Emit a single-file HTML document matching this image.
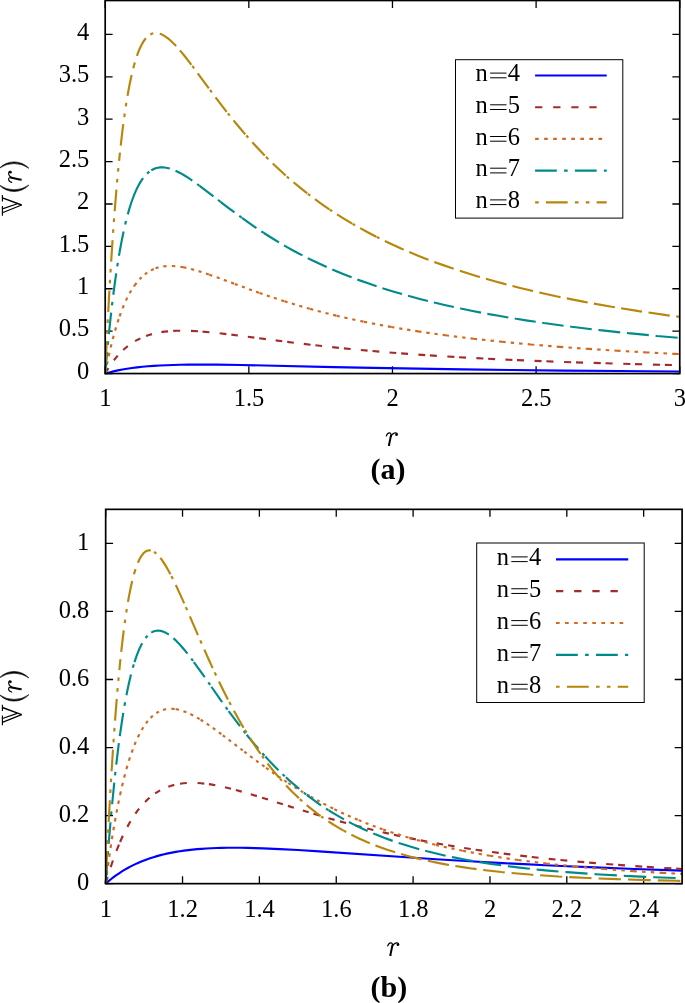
<!DOCTYPE html>
<html><head><meta charset="utf-8"><style>
html,body{margin:0;padding:0;background:#fff}
svg{display:block;font-family:"Liberation Serif",serif;will-change:transform}
</style></head><body>
<svg width="685" height="1003" viewBox="0 0 685 1003">
<rect width="685" height="1003" fill="#fff"/>
<path d="M105.2 373.55v-7.4M105.2 0.5v7.4M248.84 373.55v-7.4M248.84 0.5v7.4M392.47 373.55v-7.4M392.47 0.5v7.4M536.11 373.55v-7.4M536.11 0.5v7.4M679.75 373.55v-7.4M679.75 0.5v7.4M105.2 373.55h7.4M679.75 373.55h-7.4M105.2 331.16h7.4M679.75 331.16h-7.4M105.2 288.77h7.4M679.75 288.77h-7.4M105.2 246.37h7.4M679.75 246.37h-7.4M105.2 203.98h7.4M679.75 203.98h-7.4M105.2 161.59h7.4M679.75 161.59h-7.4M105.2 119.2h7.4M679.75 119.2h-7.4M105.2 76.81h7.4M679.75 76.81h-7.4M105.2 34.41h7.4M679.75 34.41h-7.4" stroke="#000" stroke-width="1.3" fill="none"/>
<path d="M105.67 883.65v-7.4M105.67 509.35v7.4M182.53 883.65v-7.4M182.53 509.35v7.4M259.38 883.65v-7.4M259.38 509.35v7.4M336.24 883.65v-7.4M336.24 509.35v7.4M413.1 883.65v-7.4M413.1 509.35v7.4M489.96 883.65v-7.4M489.96 509.35v7.4M566.81 883.65v-7.4M566.81 509.35v7.4M643.67 883.65v-7.4M643.67 509.35v7.4M105.67 883.65h7.4M682.1 883.65h-7.4M105.67 815.6h7.4M682.1 815.6h-7.4M105.67 747.54h7.4M682.1 747.54h-7.4M105.67 679.49h7.4M682.1 679.49h-7.4M105.67 611.43h7.4M682.1 611.43h-7.4M105.67 543.38h7.4M682.1 543.38h-7.4" stroke="#000" stroke-width="1.3" fill="none"/>
<g fill="none" stroke-width="2.15">
<path d="M105.2 373.55L109.26 372.42L113.46 371.37L117.84 370.41L122.37 369.53L127.07 368.74L131.99 368.02L137.09 367.37L142.44 366.8L148.01 366.3L153.82 365.87L159.93 365.51L166.39 365.21L173.18 364.97L180.4 364.79L188.08 364.68L196.27 364.62L205.93 364.62L216.53 364.69L241.45 365.04L264.76 365.5L333.56 367.06L373.24 367.88L417.56 368.69L462.99 369.4L511.4 370.02L563.11 370.57L618.95 371.04L679.75 371.46" stroke="#0000ff"/>
<path d="M105.2 373.55L106.82 370.77L108.44 368.12M113.91 360.26L115.83 357.84L117.76 355.58M123.26 349.93L125.49 347.95L127.8 346.06M135.08 341.13L137.7 339.68L140.36 338.36M146.1 335.98L148.98 335.01L151.92 334.14M161.42 332.13L164.63 331.68L168.03 331.31M173.18 330.93L176.63 330.78L180.25 330.71M190.94 330.9L198.01 331.28M202.56 331.62L209.46 332.22M219.67 333.29L226.38 334.07M231.36 334.67L237.88 335.49M247.81 336.78L254.33 337.64M259.15 338.27L265.85 339.15M275.68 340.43L282.3 341.28M287.2 341.9L293.85 342.73M303.79 343.93L310.58 344.72M315.39 345.28L322.12 346.03M332.2 347.12L338.91 347.82M343.9 348.33L350.71 349M360.84 349.96L367.62 350.58M372.49 351.01L379.27 351.6M389.52 352.45L396.26 352.98M401.15 353.36L408.02 353.88M418.39 354.62L425.24 355.09M429.91 355.4L436.83 355.85M447.33 356.51L454.34 356.93M459.07 357.2L465.98 357.59M476.41 358.16L483.39 358.52M488.09 358.76L495.07 359.1M505.44 359.59L512.38 359.9M516.96 360.1L523.98 360.4M534.54 360.84L541.57 361.12M546.34 361.3L553.43 361.57M564.11 361.95L571.18 362.2M576.04 362.36L583.05 362.59M593.68 362.93L600.77 363.15M605.48 363.29L612.58 363.49M623.29 363.79L630.37 363.98M635.08 364.11L642.21 364.29M652.95 364.56L660.11 364.73M664.85 364.84L671.93 365" stroke="#a52a2a"/>
<path d="M105.2 373.55L105.86 370.07M106.89 364.87L107.61 361.4M108.71 356.2L109.47 352.78M110.67 347.59L111.5 344.16M112.77 339.1L113.66 335.73M115.08 330.63L116.04 327.34M117.57 322.39L118.64 319.13M119.56 316.42L120.73 313.17M122.55 308.42L123.84 305.27M125.89 300.65L127.34 297.64M129.64 293.28L131.24 290.5M133.81 286.5L134.68 285.26M134.68 285.26L136.54 282.78M139.57 279.23L141.6 277.17M144.89 274.3L147.24 272.58M150.94 270.36L152.32 269.68L153.74 269.04M155.51 268.35L157.02 267.84L158.56 267.39M163.25 266.43L164.85 266.23L166.55 266.08M171.86 265.99L175.36 266.2M180.3 266.79L183.27 267.3M183.27 267.3L186.35 267.92M191.07 269.04L194.13 269.85M198.6 271.15L201.46 272.04M205.96 273.5L208.94 274.51M209.34 274.65L212.28 275.67M216.69 277.25L219.64 278.32M223.89 279.87L226.77 280.94M231.1 282.55L233.99 283.62M234.77 283.91L237.69 284.99M241.95 286.57L244.79 287.61M249.11 289.19L251.98 290.23M256.05 291.68L259.01 292.73M259.55 292.92L262.5 293.95M266.83 295.45L269.79 296.45M273.93 297.84L276.77 298.78M281.21 300.22L284.16 301.16M284.51 301.27L287.53 302.22M291.88 303.56L294.87 304.46M299.3 305.78L302.28 306.65M306.81 307.94L309.79 308.77M310.18 308.88L313.2 309.71M317.77 310.94L320.88 311.76M325.52 312.96L328.59 313.74M333.18 314.87L336.26 315.62M336.65 315.71L339.74 316.44M344.36 317.52L347.56 318.24M352.26 319.29L355.4 319.97M360.28 321.01L363.47 321.67M363.87 321.75L367.03 322.4M371.97 323.38L375.11 323.99M379.87 324.9L383.05 325.49M387.78 326.35L391.04 326.93M391.24 326.97L394.38 327.52M399.25 328.35L402.35 328.87M407.12 329.65L410.37 330.17M415.23 330.93L418.1 331.37M418.1 331.37L421.4 331.87M426.3 332.6L429.63 333.08M434.48 333.77L437.73 334.22M442.64 334.88L445.61 335.28M445.61 335.28L448.94 335.71M453.9 336.35L457.27 336.77M462.27 337.39L465.51 337.78M470.51 338.37L473.73 338.74M473.73 338.74L477.09 339.12M482.01 339.67L485.44 340.04M490.56 340.59L493.92 340.94M498.98 341.46L502.13 341.77M502.13 341.77L505.61 342.12M510.72 342.61L514.07 342.93M519.1 343.4L522.57 343.72M527.72 344.18L530.9 344.46M530.9 344.46L534.32 344.75M539.47 345.19L542.98 345.48M548.16 345.9L551.59 346.18M556.72 346.58L559.84 346.82M559.84 346.82L563.3 347.09M568.47 347.47L571.91 347.72M577.08 348.09L580.5 348.34M585.7 348.7L588.71 348.9M588.71 348.9L592.07 349.13M597.14 349.46L600.64 349.69M605.81 350.02L609.26 350.24M614.4 350.55L617.12 350.72M617.12 350.72L620.52 350.92M625.78 351.23L629.28 351.43M634.52 351.73L637.94 351.92M643.1 352.2L645.96 352.36M645.96 352.36L649.53 352.55M654.78 352.82L658.26 353M663.43 353.27L667 353.45M672.2 353.7L675.12 353.84M675.12 353.84L678.65 354.01" stroke="#d2691e"/>
<path d="M105.2 373.55L107.11 352.03M107.79 344.87L108.14 341.23M108.85 334.08L109.98 323.28L111.15 312.6M111.98 305.49L112.41 301.9M113.29 294.74L114.72 283.88L116.19 273.44M117.25 266.37L117.81 262.84M118.96 255.8L119.56 252.31M119.56 252.31L121.58 241.38L123.62 231.42M125.17 224.58L126.01 221.09M127.77 214.33L129.26 209.11L130.77 204.27L132.31 199.74L133.93 195.44M133.93 195.44L135.01 192.8L136.08 190.34L137.2 187.98L138.35 185.72L139.5 183.63L140.68 181.64L141.87 179.82L143.08 178.12M147.04 173.61L148.22 172.55L149.38 171.62M151.31 170.3L152.32 169.72L153.36 169.2L154.4 168.75L155.48 168.36L156.55 168.03L157.67 167.77L158.78 167.57L159.93 167.43L161.11 167.36L162.3 167.35L164.71 167.51L167.22 167.93L169.81 168.58M175.51 170.71L177.1 171.44M177.1 171.44L180.51 173.19L184.13 175.27L188.01 177.7L192.26 180.55M197.13 184.01L199.51 185.75M199.65 185.85L205.54 190.28L213.47 196.37M218.03 199.9L220.4 201.73M220.48 201.79L227.98 207.54L234.5 212.44M239.28 215.97L241.65 217.69M242.02 217.97L249.31 223.16L256.41 228.04M261.29 231.29L263.78 232.93M263.86 232.97L271.4 237.77L278.95 242.37M284.03 245.35L286.58 246.81M286.59 246.82L294.45 251.19L302.44 255.42M307.8 258.14L310.44 259.45M310.47 259.46L318.52 263.32L326.69 267.06M332.27 269.5L334.71 270.54M334.71 270.54L343.08 274L351.6 277.35M357.34 279.51L359.71 280.38M359.71 280.38L368.07 283.36L376.6 286.25M382.47 288.16L384.23 288.72M384.23 288.72L393.03 291.44L402.02 294.08M408.06 295.78L410.02 296.32M410.02 296.32L418.82 298.68L427.85 300.99M433.86 302.46L435.3 302.81M435.3 302.81L444.49 304.96L453.82 307.05M460.22 308.42L462.02 308.8M462.02 308.8L471.39 310.72L480.99 312.59M487.33 313.78L488.99 314.09M488.99 314.09L498.54 315.8L508.32 317.48M514.77 318.55L516.28 318.8M516.28 318.8L525.9 320.32L535.72 321.81M542.26 322.77L543.82 322.99M543.82 322.99L563.55 325.7M570.11 326.55L571.55 326.74M571.55 326.74L591.74 329.2M598.42 329.97L600.03 330.16M600.03 330.16L620.18 332.35M626.92 333.05L628.29 333.19M628.29 333.19L648.78 335.19M655.6 335.82L657.09 335.96M657.09 335.96L677.67 337.77" stroke="#008b8b"/>
<path d="M105.2 373.55L105.36 369.92M105.7 362.73L106.73 341.07M107.09 333.81L107.27 330.23M107.64 323.03L107.83 319.36M108.21 312.14L109.41 290.53M109.83 283.33L110.04 279.69M110.48 272.46L110.69 268.88M111.14 261.67L112.57 240.07M113.07 232.86L113.32 229.26M113.85 222.04L114.11 218.45M114.66 211.26L116.42 189.68M117.05 182.5L117.37 178.87M118.04 171.72L118.38 168.14M119.08 160.98L119.56 156.27M119.56 156.27L119.94 152.71M120.72 145.54L121.97 134.68L123.28 124.19M124.24 117.07L124.75 113.49M125.8 106.4L126.35 102.88M127.51 95.84L128.51 90.24L129.55 84.77L130.59 79.69L131.62 75M133.29 68.16L133.93 65.74M133.93 65.74L134.86 62.43M136.96 55.82L137.99 52.97L139.06 50.24L140.14 47.77L141.26 45.46L142.4 43.33L143.55 41.44L144.74 39.73L145.9 38.27M150.32 34.49L150.34 34.47M150.34 34.47L151.81 33.77L153.28 33.3M159.87 33.7L161.4 34.29L163.05 35.09L164.74 36.08L166.5 37.27L168.3 38.64L170.16 40.22L172.1 42L174.1 43.97M174.15 44.03L176.12 46.1M179.91 50.35L182.48 53.42L185.21 56.79L188.19 60.59L191.45 64.85M192.29 65.95L194.11 68.39M197.75 73.28L208.84 88.32M209.99 89.87L211.85 92.37M215.56 97.34L221.3 104.89L226.67 111.81M227.87 113.34L229.75 115.7M233.56 120.43L239.44 127.55L245.26 134.38M246.3 135.57L248.26 137.8M252.28 142.3L258.51 149.04L264.76 155.55M265.94 156.74L268.37 159.18M272.79 163.53L279.19 169.59L285.69 175.49M286.77 176.45L289.04 178.44M293.53 182.29L300.34 187.92L307.26 193.39M307.96 193.93L310.23 195.66M314.95 199.19L322.07 204.31L329.31 209.28M329.68 209.53L332.16 211.18M337.1 214.39L344.59 219.07L352.21 223.62M352.6 223.85L355.04 225.26M360.2 228.18L368.11 232.48L376.23 236.7M376.62 236.9L379.42 238.3M384.88 240.98L392.89 244.76L401.04 248.45M401.04 248.45L403.71 249.62M409.34 252.03L417.45 255.39L425.68 258.64M425.68 258.64L428.52 259.74M434.26 261.9L442.48 264.88L450.85 267.8M450.85 267.8L453.69 268.76M459.83 270.8L468.34 273.52L477.06 276.2M477.06 276.2L479.97 277.06M485.96 278.82L494.63 281.27L503.46 283.66M503.46 283.66L506.43 284.45M512.48 286.02L521.16 288.19L530 290.33M530 290.33L533.08 291.05M539.32 292.49L548.28 294.49L557.33 296.43M557.33 296.43L560.51 297.1M566.78 298.38L575.57 300.13L584.51 301.85M584.51 301.85L587.68 302.45M593.87 303.59L611.66 306.71M611.66 306.71L614.84 307.25M621.1 308.28L638.77 311.08M638.77 311.08L642.03 311.58M648.54 312.55L666.46 315.12M666.46 315.12L669.72 315.56M676.19 316.44L679.71 316.91" stroke="#b8860b"/>
<path d="M105.67 883.65L108.26 881.41L110.89 879.27L113.6 877.18L116.33 875.19L119.11 873.28L121.96 871.44L124.84 869.68L127.79 867.99L130.78 866.39L133.84 864.85L136.94 863.4L140.11 862.01L143.36 860.7L146.67 859.45L150.02 858.28L153.48 857.17L156.98 856.13L160.58 855.15L164.25 854.24L168 853.4L171.86 852.61L175.78 851.89L179.82 851.23L183.96 850.63L188.21 850.09L192.57 849.61L197.04 849.18L201.65 848.81L206.37 848.5L211.27 848.24L216.32 848.04L221.5 847.9L227.7 847.79L234.15 847.76L240.89 847.8L247.91 847.91L255.3 848.09L263.05 848.35L280.01 849.08L297.92 850.05L319.18 851.37L399.27 856.8L436.13 859.2L469.74 861.24L502.89 863.09L524.08 864.19L545.48 865.24L567.17 866.23L589.22 867.19L634.61 868.96L682.1 870.58" stroke="#0000ff"/>
<path d="M105.67 883.65L107.62 876.94M110.7 867.06L112.91 860.5M116.44 850.87L118.98 844.56M120.08 841.96L122.84 835.81M127.34 826.86L128.91 824.03L130.49 821.31M135.39 813.72L137.23 811.17L139.15 808.69M145.08 801.96L147.28 799.81L149.55 797.77M155.14 793.47L157.62 791.85L160.17 790.37M168.29 786.69L171.24 785.7L174.3 784.86M180.03 783.71L183.35 783.28L186.79 782.99M197.54 782.99L200.86 783.22L204.3 783.56M208.89 784.16L212.06 784.66L215.31 785.23M225 787.27L231 788.73M235.84 790L241.78 791.63M250.76 794.26L256.86 796.1M262.07 797.72L268.04 799.58M276.95 802.4L282.84 804.27M287.94 805.87L293.85 807.73M302.83 810.52L308.67 812.31M313.45 813.75L319.49 815.55M328.48 818.17L334.58 819.9M339.93 821.4L346.09 823.08M355.42 825.55L361.47 827.1M367.21 828.54L373.36 830.05M382.67 832.25L388.89 833.67M393.9 834.79L399.95 836.1M409.52 838.1L415.84 839.38M420.67 840.33L427.11 841.56M436.69 843.32L443.08 844.45M448.05 845.31L454.49 846.39M464.18 847.95L470.72 848.96M475.65 849.7L482.25 850.66M492.07 852.04L498.75 852.94M503.72 853.59L510.36 854.43M520.24 855.64L526.97 856.43M531.75 856.97L538.54 857.73M548.72 858.81L555.49 859.5M560.43 859.99L567.29 860.65M577.42 861.58L584.26 862.19M589.14 862.61L595.91 863.18M606.16 864L613.21 864.54M618.11 864.91L625.01 865.42M635.35 866.14L642.21 866.6M646.9 866.91L653.85 867.35M664.25 867.99L671.35 868.41M676.16 868.68L682.1 869.02" stroke="#a52a2a"/>
<path d="M105.67 883.65L106.13 880.05M106.81 874.74L107.28 871.16M108.01 865.81L108.5 862.22M109.25 856.9L109.76 853.35M110.56 848.01L111.1 844.43M111.92 839.13L112.49 835.59M113.36 830.29L113.96 826.73M114.88 821.46L115.51 817.93M116.48 812.67L117.15 809.2M118.18 803.95L118.89 800.47M120 795.24L120.08 794.85M120.08 794.85L120.85 791.36M122.04 786.15L122.85 782.79M124.14 777.62L125.02 774.23M126.41 769.14L127.36 765.82M128.89 760.79L129.97 757.41M131.64 752.51L132.81 749.3M134.49 744.96L135.78 741.86M137.89 737.2L139.35 734.23M141.68 729.94L143.33 727.21M145.96 723.34L147.82 720.95M150.6 717.86L151.75 716.73L152.86 715.73M156.41 713.05L157.66 712.29L158.89 711.61M162.98 709.93L164.54 709.5L166.14 709.16M171.32 708.76L173.04 708.84L174.74 709.01M175.75 709.15L177.37 709.44L179.03 709.81M183.45 711.13L186.39 712.25M190.4 714.04L193.16 715.43M197.06 717.58L199.59 719.09M200.64 719.73L203.1 721.28M206.75 723.68L209.22 725.37M212.85 727.92L215.28 729.67M218.92 732.34L221.33 734.13M222.84 735.27L225.15 737.01M228.66 739.69L231.02 741.49M234.52 744.18L236.96 746.06M240.44 748.73L242.71 750.47M244.35 751.72L246.62 753.45M250.17 756.14L252.58 757.96M256.13 760.61L258.51 762.37M262.06 764.98L264.49 766.74M266.07 767.88L268.51 769.62M272.09 772.14L274.49 773.82M278.19 776.35L280.65 778.01M284.34 780.47L286.78 782.07M288.27 783.04L290.7 784.6M294.46 786.98L296.99 788.54M300.72 790.82L303.21 792.31M306.93 794.5L309.51 795.98M310.75 796.69L313.31 798.13M317.12 800.24L319.56 801.56M323.39 803.59L326.16 805.03M330.24 807.11L333.2 808.58M334.38 809.16L337.05 810.45M341.16 812.4L343.92 813.68M347.95 815.5L350.71 816.72M354.85 818.5L357.71 819.71M358.7 820.12L361.48 821.26M365.64 822.93L368.45 824.03M372.75 825.67L375.63 826.74M379.67 828.21L382.59 829.25M383.17 829.45L386.06 830.45M390.48 831.94L393.54 832.95M397.94 834.36L400.85 835.27M405.5 836.68L408.48 837.56M409.32 837.81L412.27 838.65M416.81 839.93L419.99 840.79M424.63 842.03L427.7 842.82M432.24 843.96L435.35 844.73M435.88 844.85L439.04 845.61M443.67 846.68L446.76 847.38M451.44 848.41L454.5 849.07M459.26 850.06L462.45 850.71M462.72 850.76L465.98 851.41M470.67 852.31L473.87 852.91M478.61 853.78L481.87 854.36M486.68 855.19L489.94 855.73M490.03 855.75L493.24 856.28M498.17 857.06L501.54 857.59M506.48 858.33L509.81 858.82M514.73 859.52L518.1 859.99M518.24 860.01L521.6 860.47M526.56 861.12L529.88 861.54M534.79 862.16L538.15 862.57M543.22 863.16L546.45 863.54M546.45 863.54L549.81 863.91M554.74 864.45L558.18 864.82M563.28 865.35L566.71 865.69M571.85 866.2L575.09 866.51M575.09 866.51L578.52 866.82M583.7 867.3L587.11 867.6M592.29 868.04L595.67 868.32M600.81 868.74L603.88 868.99M603.88 868.99L607.39 869.26M612.64 869.66L616.11 869.91M621.38 870.29L624.84 870.53M630.08 870.89L633.28 871.1M633.28 871.1L636.79 871.33M642.02 871.66L645.54 871.87M650.75 872.18L654.32 872.39M659.51 872.69L662.64 872.86M662.64 872.86L666.17 873.05M671.41 873.33L674.97 873.51M680.17 873.77L682.1 873.87" stroke="#d2691e"/>
<path d="M105.67 883.65L107.26 861.94M107.81 854.72L108.09 851.11M108.67 843.87L110.49 822.26M111.13 815.06L111.46 811.43M112.13 804.25L114.27 782.63M115.04 775.49L115.43 771.88M116.24 764.66L117.56 753.56L118.87 743.21M119.82 736.09L120.08 734.21M120.08 734.21L121.67 723.24L123.3 712.87M124.49 705.83L125.11 702.3M126.43 695.27L127.54 689.72L128.69 684.32L129.85 679.26L131 674.54M132.82 667.72L133.8 664.36M134.49 662.1L136.33 656.61L137.27 654.07L138.24 651.6L139.21 649.3L140.19 647.16L141.16 645.19L142.17 643.29M145.61 637.99L146.6 636.77L147.57 635.69M151.25 632.63L152.22 632.08L153.26 631.58L154.24 631.22L155.28 630.93L156.33 630.74L157.41 630.63L158.45 630.63L159.5 630.7L160.61 630.88L161.7 631.13L162.81 631.47L164 631.93L165.23 632.49L166.42 633.11L167.6 633.81L168.89 634.65M173.47 638.26L175.46 640.1M175.46 640.1L178.23 642.89L181.15 646.07L184.25 649.69L187.48 653.68M191.22 658.52L193.05 660.96M193.83 662.02L198.73 668.76L204.73 677.24M208.32 682.37L210.15 684.99M211.38 686.75L222.13 702.05M225.77 707.13L227.57 709.63M228.67 711.14L234.44 718.95L239.95 726.21M243.68 730.99L245.55 733.36M246.69 734.78L252.56 741.96L258.37 748.78M262.32 753.25L264.49 755.66M265.35 756.6L268.63 760.13L271.87 763.54L275.15 766.9L278.47 770.2M282.61 774.21L284.78 776.25M285.92 777.31L289.24 780.33L292.55 783.27L295.9 786.15L299.24 788.94M303.82 792.64L306.17 794.48M306.75 794.93L310.28 797.61L313.85 800.23L317.41 802.77L321.06 805.29M325.95 808.53L328.41 810.11M328.62 810.24L332.4 812.59L336.22 814.89L340.08 817.13L344.01 819.33M349.01 822.02L351.57 823.34M351.57 823.34L355.53 825.34L359.53 827.28L363.57 829.17L367.66 831.01M373.25 833.42L375.53 834.37M375.53 834.37L379.71 836.05L384 837.72L392.64 840.88M398.63 842.93L401.29 843.8M401.29 843.8L410.15 846.57L419.27 849.2M425.15 850.78L427.16 851.3M427.16 851.3L436.27 853.55L445.65 855.69M451.94 857.02L453.78 857.4M453.78 857.4L463.26 859.25L473.03 861M479.53 862.09L481.38 862.39M481.38 862.39L491.15 863.89L501.18 865.3M507.87 866.18L509.66 866.41M509.66 866.41L519.64 867.62L529.87 868.76M536.61 869.45L538.09 869.6M538.09 869.6L548.07 870.56L558.44 871.47M565.4 872.05L566.88 872.16M566.88 872.16L577.04 872.94L587.54 873.67M594.49 874.13L595.85 874.21M595.85 874.21L616.84 875.44M623.77 875.8L625.1 875.87M625.1 875.87L646.23 876.85M653.31 877.15L654.57 877.2M654.57 877.2L675.66 878" stroke="#008b8b"/>
<path d="M105.67 883.65L105.83 880.02M106.17 872.79L107.2 851M107.56 843.75L107.74 840.14M108.11 832.89L108.3 829.25M108.68 822.04L109.87 800.27M110.28 793.02L110.49 789.36M110.92 782.17L111.14 778.57M111.58 771.26L112.98 749.6M113.47 742.32L113.72 738.75M114.24 731.47L114.5 727.84M115.03 720.62L116.75 698.96M117.35 691.77L117.67 688.14M118.31 680.97L118.65 677.33M119.33 670.13L120.08 662.58M120.08 662.58L120.45 659.02M121.21 651.86L122.46 640.86L123.76 630.32M124.71 623.19L125.2 619.63M126.25 612.51L126.8 609M127.97 601.91L129.02 596.11L130.06 590.74L131.14 585.64L132.21 581M133.98 574.23L134.49 572.46M134.49 572.46L135.54 569.11M137.9 562.72L139.36 559.53L140.11 558.09L140.87 556.79L141.63 555.63L142.42 554.54L143.21 553.59L144 552.78L144.8 552.09L145.63 551.49L146.49 551.01L147.32 550.67L148.15 550.45L149.05 550.33L149.95 550.35L150.82 550.47M153.95 551.78L155.14 552.6L156.35 553.6M160.37 557.96L161.52 559.47L162.7 561.14L165.15 564.91L167.71 569.25L170.46 574.29M171.39 576.08L172.89 579.03M175.81 585.03L179.71 593.4L184.2 603.41M185.83 607.14L187.17 610.19M189.86 616.38L197.94 635.06M200.25 640.35L201.62 643.49M204.34 649.67L208.61 659.19L212.67 668.08M214.66 672.36L216.11 675.45M218.98 681.47L223.49 690.66L227.92 699.4M229.32 702.1L230.86 705.02M233.96 710.8L238.76 719.43L243.56 727.68M244.85 729.83L246.52 732.57M249.99 738.14L255.26 746.23L257.93 750.16L260.59 753.98M262.04 756L263.84 758.49M267.57 763.47L270.4 767.12L273.24 770.69L276.09 774.14L279.02 777.58M279.94 778.65L281.93 780.9M286.1 785.45L289.24 788.76L292.41 791.97L295.62 795.1L298.84 798.14M299.87 799.09L302.2 801.2M306.66 805.07L310.06 807.89L313.52 810.65L316.98 813.31L320.52 815.92M321.09 816.33L323.44 817.99M328.37 821.34L332.11 823.76L335.86 826.08L339.68 828.35L343.6 830.57M343.75 830.66L346.15 831.97M351.35 834.69L355.17 836.59L359.03 838.43L362.99 840.23L366.99 841.97M366.99 841.97L369.78 843.14M375.47 845.42L379.56 846.97L383.67 848.45L387.89 849.91L392.25 851.34M392.25 851.34L395.15 852.26M401.14 854.07L409.65 856.43L418.4 858.65M418.4 858.65L421.48 859.38M427.83 860.81L436.63 862.65L445.68 864.36M445.68 864.36L448.97 864.95M455.36 866.02L464.16 867.4L473.28 868.69M473.28 868.69L476.52 869.12M483.19 869.97L492.12 871.02L501.38 872.01M501.38 872.01L504.73 872.35M511.58 873L520.55 873.8L529.88 874.55M529.88 874.55L533.28 874.81M540.08 875.3L558.7 876.5M558.7 876.5L562.2 876.7M569.22 877.09L587.96 878.01M587.96 878.01L591.48 878.17M598.49 878.46L617.36 879.17M617.36 879.17L620.92 879.29M628 879.52L647.04 880.08M647.04 880.08L650.68 880.17M657.83 880.35L676.77 880.78M676.77 880.78L680.32 880.86" stroke="#b8860b"/>
</g>
<g font-size="24.5" fill="#000">
<rect x="105.2" y="0.5" width="574.55" height="373.05" stroke="#000" stroke-width="1.7" fill="none"/>
<text x="105.3" y="405.85" text-anchor="middle">1</text>
<text x="248.94" y="405.85" text-anchor="middle">1.5</text>
<text x="392.57" y="405.85" text-anchor="middle">2</text>
<text x="536.21" y="405.85" text-anchor="middle">2.5</text>
<text x="679.85" y="405.85" text-anchor="middle">3</text>
<text x="89.3" y="378.85" text-anchor="end">0</text>
<text x="89.3" y="336.46" text-anchor="end">0.5</text>
<text x="89.3" y="294.07" text-anchor="end">1</text>
<text x="89.3" y="251.67" text-anchor="end">1.5</text>
<text x="89.3" y="209.28" text-anchor="end">2</text>
<text x="89.3" y="166.89" text-anchor="end">2.5</text>
<text x="89.3" y="124.5" text-anchor="end">3</text>
<text x="89.3" y="82.11" text-anchor="end">3.5</text>
<text x="89.3" y="39.71" text-anchor="end">4</text>
<rect x="105.67" y="509.35" width="576.43" height="374.3" stroke="#000" stroke-width="1.7" fill="none"/>
<text x="105.77" y="916.75" text-anchor="middle">1</text>
<text x="182.63" y="916.75" text-anchor="middle">1.2</text>
<text x="259.48" y="916.75" text-anchor="middle">1.4</text>
<text x="336.34" y="916.75" text-anchor="middle">1.6</text>
<text x="413.2" y="916.75" text-anchor="middle">1.8</text>
<text x="490.06" y="916.75" text-anchor="middle">2</text>
<text x="566.91" y="916.75" text-anchor="middle">2.2</text>
<text x="643.77" y="916.75" text-anchor="middle">2.4</text>
<text x="89.3" y="889.85" text-anchor="end">0</text>
<text x="89.3" y="821.8" text-anchor="end">0.2</text>
<text x="89.3" y="753.74" text-anchor="end">0.4</text>
<text x="89.3" y="685.69" text-anchor="end">0.6</text>
<text x="89.3" y="617.63" text-anchor="end">0.8</text>
<text x="89.3" y="549.58" text-anchor="end">1</text>
<rect x="455.5" y="59.7" width="167.3" height="158.4" stroke="#000" stroke-width="1" fill="none"/>
<path d="M535.1 75.5h71.6" stroke="#0000ff" stroke-width="2.15" fill="none"/>
<text x="475.5" y="81.3">n</text>
<path d="M490.1 73.1h16.4M490.1 77.8h16.4" stroke="#000" stroke-width="1"/>
<text x="507.8" y="81.3">4</text>
<path d="M535.1 107.2h71.6" stroke="#a52a2a" stroke-width="2.15" fill="none" stroke-dasharray="7.24 10.86"/>
<text x="475.5" y="113">n</text>
<path d="M490.1 104.8h16.4M490.1 109.5h16.4" stroke="#000" stroke-width="1"/>
<text x="507.8" y="113">5</text>
<path d="M535.1 138.9h71.6" stroke="#d2691e" stroke-width="2.15" fill="none" stroke-dasharray="3.62 5.43"/>
<text x="475.5" y="144.7">n</text>
<path d="M490.1 136.5h16.4M490.1 141.2h16.4" stroke="#000" stroke-width="1"/>
<text x="507.8" y="144.7">6</text>
<path d="M535.1 170.6h71.6" stroke="#008b8b" stroke-width="2.15" fill="none" stroke-dasharray="21.72 7.24 3.62 7.24"/>
<text x="475.5" y="176.4">n</text>
<path d="M490.1 168.2h16.4M490.1 172.9h16.4" stroke="#000" stroke-width="1"/>
<text x="507.8" y="176.4">7</text>
<path d="M535.1 202.3h71.6" stroke="#b8860b" stroke-width="2.15" fill="none" stroke-dasharray="3.62 7.24 21.72 7.24 3.62 7.24"/>
<text x="475.5" y="208.1">n</text>
<path d="M490.1 199.9h16.4M490.1 204.6h16.4" stroke="#000" stroke-width="1"/>
<text x="507.8" y="208.1">8</text>
<rect x="476.7" y="543" width="167.5" height="159.5" stroke="#000" stroke-width="1" fill="none"/>
<path d="M556 559.3h72.2" stroke="#0000ff" stroke-width="2.15" fill="none"/>
<text x="496.7" y="565.1">n</text>
<path d="M511.3 556.9h16.4M511.3 561.6h16.4" stroke="#000" stroke-width="1"/>
<text x="529" y="565.1">4</text>
<path d="M556 591.15h72.2" stroke="#a52a2a" stroke-width="2.15" fill="none" stroke-dasharray="7.27 10.9"/>
<text x="496.7" y="596.95">n</text>
<path d="M511.3 588.75h16.4M511.3 593.45h16.4" stroke="#000" stroke-width="1"/>
<text x="529" y="596.95">5</text>
<path d="M556 623h72.2" stroke="#d2691e" stroke-width="2.15" fill="none" stroke-dasharray="3.63 5.45"/>
<text x="496.7" y="628.8">n</text>
<path d="M511.3 620.6h16.4M511.3 625.3h16.4" stroke="#000" stroke-width="1"/>
<text x="529" y="628.8">6</text>
<path d="M556 654.85h72.2" stroke="#008b8b" stroke-width="2.15" fill="none" stroke-dasharray="21.81 7.27 3.63 7.27"/>
<text x="496.7" y="660.65">n</text>
<path d="M511.3 652.45h16.4M511.3 657.15h16.4" stroke="#000" stroke-width="1"/>
<text x="529" y="660.65">7</text>
<path d="M556 686.7h72.2" stroke="#b8860b" stroke-width="2.15" fill="none" stroke-dasharray="3.63 7.27 21.81 7.27 3.63 7.27"/>
<text x="496.7" y="692.5">n</text>
<path d="M511.3 684.3h16.4M511.3 689h16.4" stroke="#000" stroke-width="1"/>
<text x="529" y="692.5">8</text>
</g>
<g transform="translate(21.7 215.7) rotate(-90)"><path d="M2.9 -19.3L10.7 0M6.8 -19.3L11.9 -4.4M0 -19.3h9.7M14.3 -19.3h6.3" stroke="#000" fill="none" stroke-width="1.15"/><path d="M10.7 0L17.8 -19.3" stroke="#000" fill="none" stroke-width="1.5"/><path d="M30.6 -22.4A20.3 20.3 0 0 0 30.6 7.2A25.5 25.5 0 0 1 30.6 -22.4ZM47.4 -22.4A20.3 20.3 0 0 1 47.4 7.2A25.5 25.5 0 0 0 47.4 -22.4Z" fill="#000" stroke="#000" stroke-width="0.6"/><g transform="translate(33 0)" fill="none" stroke="#000" stroke-linecap="round"><path d="M0.3 -10.0C0.9 -12.1 2.2 -13.1 3.4 -13.1C4.7 -13.1 5.3 -12.2 5.1 -10.9" stroke-width="1.1"/><path d="M5.15 -11.3L2.95 -0.9" stroke-width="2.0" stroke-linecap="butt"/><path d="M2.0 -0.05L3.95 -0.05L4.2 -1.2L2.2 -1.2Z" fill="#000" stroke="none"/><path d="M4.7 -9.3C6.0 -11.8 7.7 -13.1 9.5 -13.1C10.6 -13.1 11.3 -12.6 11.4 -11.8" stroke-width="1.1"/><circle cx="10.5" cy="-11.3" r="1.35" fill="#000" stroke="none"/></g></g>
<g transform="translate(21.7 725.3) rotate(-90)"><path d="M2.9 -19.3L10.7 0M6.8 -19.3L11.9 -4.4M0 -19.3h9.7M14.3 -19.3h6.3" stroke="#000" fill="none" stroke-width="1.15"/><path d="M10.7 0L17.8 -19.3" stroke="#000" fill="none" stroke-width="1.5"/><path d="M30.6 -22.4A20.3 20.3 0 0 0 30.6 7.2A25.5 25.5 0 0 1 30.6 -22.4ZM47.4 -22.4A20.3 20.3 0 0 1 47.4 7.2A25.5 25.5 0 0 0 47.4 -22.4Z" fill="#000" stroke="#000" stroke-width="0.6"/><g transform="translate(33 0)" fill="none" stroke="#000" stroke-linecap="round"><path d="M0.3 -10.0C0.9 -12.1 2.2 -13.1 3.4 -13.1C4.7 -13.1 5.3 -12.2 5.1 -10.9" stroke-width="1.1"/><path d="M5.15 -11.3L2.95 -0.9" stroke-width="2.0" stroke-linecap="butt"/><path d="M2.0 -0.05L3.95 -0.05L4.2 -1.2L2.2 -1.2Z" fill="#000" stroke="none"/><path d="M4.7 -9.3C6.0 -11.8 7.7 -13.1 9.5 -13.1C10.6 -13.1 11.3 -12.6 11.4 -11.8" stroke-width="1.1"/><circle cx="10.5" cy="-11.3" r="1.35" fill="#000" stroke="none"/></g></g>
<g transform="translate(386 446)" fill="none" stroke="#000" stroke-linecap="round"><path d="M0.3 -10.0C0.9 -12.1 2.2 -13.1 3.4 -13.1C4.7 -13.1 5.3 -12.2 5.1 -10.9" stroke-width="1.1"/><path d="M5.15 -11.3L2.95 -0.9" stroke-width="2.0" stroke-linecap="butt"/><path d="M2.0 -0.05L3.95 -0.05L4.2 -1.2L2.2 -1.2Z" fill="#000" stroke="none"/><path d="M4.7 -9.3C6.0 -11.8 7.7 -13.1 9.5 -13.1C10.6 -13.1 11.3 -12.6 11.4 -11.8" stroke-width="1.1"/><circle cx="10.5" cy="-11.3" r="1.35" fill="#000" stroke="none"/></g>
<g transform="translate(387.4 956)" fill="none" stroke="#000" stroke-linecap="round"><path d="M0.3 -10.0C0.9 -12.1 2.2 -13.1 3.4 -13.1C4.7 -13.1 5.3 -12.2 5.1 -10.9" stroke-width="1.1"/><path d="M5.15 -11.3L2.95 -0.9" stroke-width="2.0" stroke-linecap="butt"/><path d="M2.0 -0.05L3.95 -0.05L4.2 -1.2L2.2 -1.2Z" fill="#000" stroke="none"/><path d="M4.7 -9.3C6.0 -11.8 7.7 -13.1 9.5 -13.1C10.6 -13.1 11.3 -12.6 11.4 -11.8" stroke-width="1.1"/><circle cx="10.5" cy="-11.3" r="1.35" fill="#000" stroke="none"/></g>
<text x="388" y="478.5" font-size="30" font-weight="bold" text-anchor="middle">(a)</text>
<text x="388.9" y="997" font-size="30" font-weight="bold" text-anchor="middle">(b)</text>
</svg></body></html>
